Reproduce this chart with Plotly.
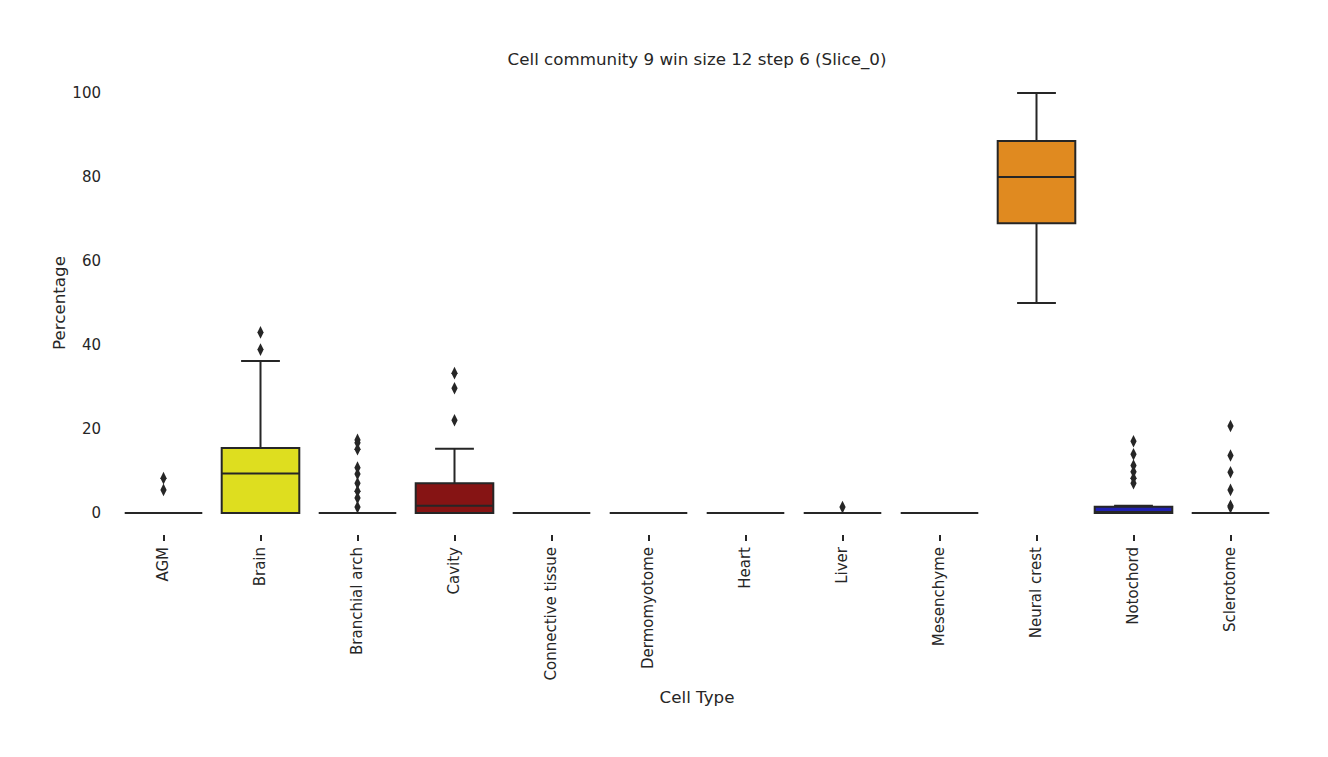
import plotly.graph_objects as go

# Categorias y estadisticos de cada caja
cell_types = ["AGM", "Brain", "Branchial arch", "Cavity", "Connective tissue",
              "Dermomyotome", "Heart", "Liver", "Mesenchyme", "Neural crest",
              "Notochord", "Sclerotome"]
q1 = [0, 0, 0, 0, 0, 0, 0, 0, 0, 69.0, 0, 0]
median = [0, 9.4, 0, 1.7, 0, 0, 0, 0, 0, 80.0, 0, 0]
q3 = [0, 15.5, 0, 7.1, 0, 0, 0, 0, 0, 88.6, 1.5, 0]
lower = [0, 0, 0, 0, 0, 0, 0, 0, 0, 50.0, 0, 0]
upper = [0, 36.2, 0, 15.3, 0, 0, 0, 0, 0, 100.0, 1.7, 0]
colors = ["#1f9e9e", "#dede1f", "#8a9a2a", "#861414", "#555555", "#777777",
          "#b03060", "#3060b0", "#60a060", "#e08a20", "#2020b0", "#a06030"]

# Valores atipicos
out_x = (["AGM"] * 2 + ["Brain"] * 2 + ["Branchial arch"] * 9 + ["Cavity"] * 3
         + ["Liver"] + ["Notochord"] * 6 + ["Sclerotome"] * 6)
out_y = ([8.3, 5.5]
         + [43.0, 38.9]
         + [17.4, 16.7, 15.2, 10.8, 9.3, 7.1, 5.2, 3.6, 1.4]
         + [33.3, 29.7, 22.1]
         + [1.4]
         + [17.1, 14.0, 11.3, 9.8, 8.3, 7.1]
         + [20.7, 13.7, 9.7, 5.5, 1.7, 1.4])

fig = go.Figure()

for i, ct in enumerate(cell_types):
    fig.add_trace(go.Box(
        x=[ct], q1=[q1[i]], median=[median[i]], q3=[q3[i]],
        lowerfence=[lower[i]], upperfence=[upper[i]],
        fillcolor=colors[i],
        line=dict(color="#262626", width=2),
        width=0.8,
        whiskerwidth=0.5,
        boxpoints=False,
        showlegend=False,
        hoverinfo="skip",
    ))

fig.add_trace(go.Scatter(
    x=out_x, y=out_y, mode="markers",
    marker=dict(symbol="diamond-tall", size=9, color="#262626"),
    showlegend=False,
))

font_color = "#262626"
# la pagina tiene un margen de 8px en el body, se compensa en los margenes
fig.update_layout(
    width=1328, height=757,
    plot_bgcolor="white", paper_bgcolor="white",
    font=dict(family="DejaVu Sans", size=15, color=font_color),
    title=dict(text="Cell community 9 win size 12 step 6 (Slice_0)",
               x=689 / 1328, xanchor="center",
               y=1 - 51 / 757, yanchor="middle",
               font=dict(size=16.7, color=font_color)),
    margin=dict(l=107, r=57, t=64, b=231),
    boxmode="overlay",
    xaxis=dict(
        categoryorder="array", categoryarray=cell_types,
        range=[-0.5, 11.5],
        showgrid=False, zeroline=False, showline=False,
        ticks="outside", ticklen=6, tickwidth=1.5, tickcolor=font_color,
        tickangle=-90,
        tickfont=dict(size=15),
        title=dict(text="Cell Type", font=dict(size=16.7), standoff=11),
    ),
    yaxis=dict(
        range=[-5, 105],
        tickvals=[0, 20, 40, 60, 80, 100],
        showgrid=False, zeroline=False, showline=False,
        ticks="outside", ticklen=10, tickcolor="rgba(0,0,0,0)",
        tickfont=dict(size=15),
        title=dict(text="Percentage", font=dict(size=16.7), standoff=2),
    ),
)

fig.write_html("out.html")
